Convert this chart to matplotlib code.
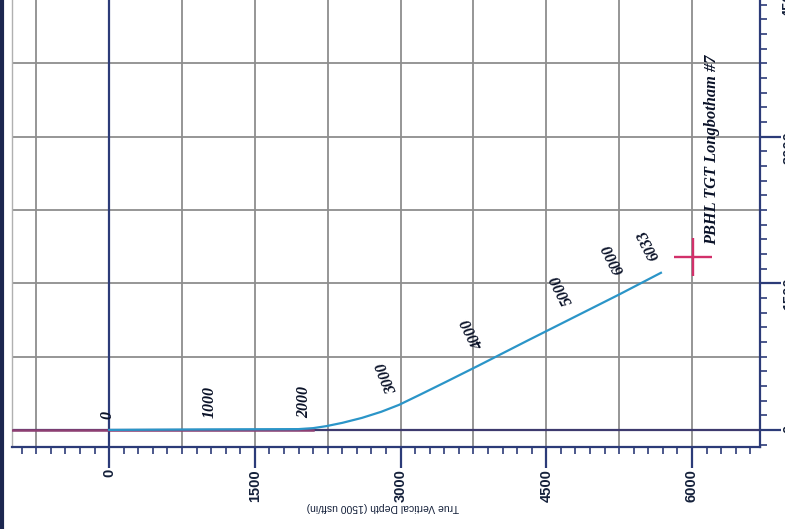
import matplotlib.pyplot as plt
import numpy as np
from matplotlib.ticker import MultipleLocator
from matplotlib.lines import Line2D

# well path (true vertical depth vs vertical section, usft)
path_tvd = [0, 1000, 1950, 2100, 2233, 2400, 2603, 2800, 2984, 3200, 3467, 3807, 4300, 4800, 5250, 5680]
path_vs = [0, 5, 8, 18, 38, 72, 123, 185, 256, 360, 491, 660, 910, 1160, 1385, 1607]

# planned vertical hole line
plan_tvd = [-1000, 2100]
plan_vs = [0, 0]

# measured depth tags along the path
md_text = ["0", "1000", "2000", "3000", "4000", "5000", "6000", "6033"]
md_tvd = [-20, 1030, 2005, 2860, 3745, 4660, 5195, 5556]
md_vs = [155, 290, 290, 530, 985, 1435, 1750, 1895]
md_rot = [90, 90, 90, 112, 117, 117, 117, 117]

# target
tgt_tvd = 6010
tgt_vs = 1770
tgt_name = "PBHL TGT Longbotham #7"

navy = "#2c3b78"

fig = plt.figure(figsize=(7.85, 5.29), dpi=100)
ax = fig.add_axes([12 / 785, 82 / 529, 748 / 785, 457 / 529])
ax.set_xlim(-1000, 6700)
ax.set_ylim(-175, 4500)

# grid every 750
for v in np.arange(-750, 6700, 750):
    ax.axvline(v, color="#8e8e8e", lw=1.3, zorder=1)
for v in np.arange(750, 4500, 750):
    ax.axhline(v, color="#8e8e8e", lw=1.3, zorder=1)
ax.axvline(0, color=navy, lw=1.6, zorder=2)
ax.axhline(0, color="#3d3a6e", lw=1.6, zorder=2)

ax.plot(plan_tvd, plan_vs, color="#8e3f72", lw=1.8, zorder=3)
ax.plot(path_tvd, path_vs, color="#2b95c8", lw=1.6, zorder=4)

for t, x, y, r in zip(md_text, md_tvd, md_vs, md_rot):
    ax.text(x, y, t, rotation=r, ha="center", va="center", rotation_mode="anchor",
            family="Liberation Serif", fontweight="bold", fontstyle="italic",
            fontsize=11.5, color="#0a1228", zorder=5)

ax.plot([tgt_tvd], [tgt_vs], marker="+", markersize=28, mew=1.7, color="#d2306a", zorder=5)
ax.text(tgt_tvd + 195, tgt_vs + 125, tgt_name, rotation=90, rotation_mode="anchor",
        ha="left", va="center", family="Liberation Serif", fontweight="bold",
        fontstyle="italic", fontsize=11.8, color="#0a1228")

# axes / ticks
ax.spines["top"].set_visible(False)
ax.spines["left"].set_color("#b0b0b0")
ax.spines["left"].set_linewidth(1.0)
for s in ["bottom", "right"]:
    ax.spines[s].set_color(navy)
    ax.spines[s].set_linewidth(1.6)

ax.xaxis.set_major_locator(MultipleLocator(1500))
ax.xaxis.set_minor_locator(MultipleLocator(150))
ax.yaxis.set_major_locator(MultipleLocator(1500))
ax.yaxis.set_minor_locator(MultipleLocator(150))
ax.yaxis.tick_right()
ax.tick_params(which="major", length=15, width=1.6, color=navy, pad=1)
ax.tick_params(which="minor", length=5, width=1.2, color=navy)
ax.tick_params(axis="x", labelrotation=90)
ax.tick_params(axis="y", labelrotation=90)
for lab in ax.get_xticklabels() + ax.get_yticklabels():
    lab.set_family("Liberation Sans")
    lab.set_fontweight("bold")
    lab.set_fontsize(10.5)
    lab.set_color("#14203a")

fig.text(383 / 785, 1 - 507 / 529, "True Vertical Depth (1500 usft/in)", rotation=180,
         ha="center", va="center", fontsize=7.5, family="Liberation Sans", color="#14203a")

# scanned page edge
fig.add_artist(Line2D([0.002, 0.002], [0, 1], transform=fig.transFigure, color="#1c2750", lw=3))

fig.savefig("out.png", dpi=100)
